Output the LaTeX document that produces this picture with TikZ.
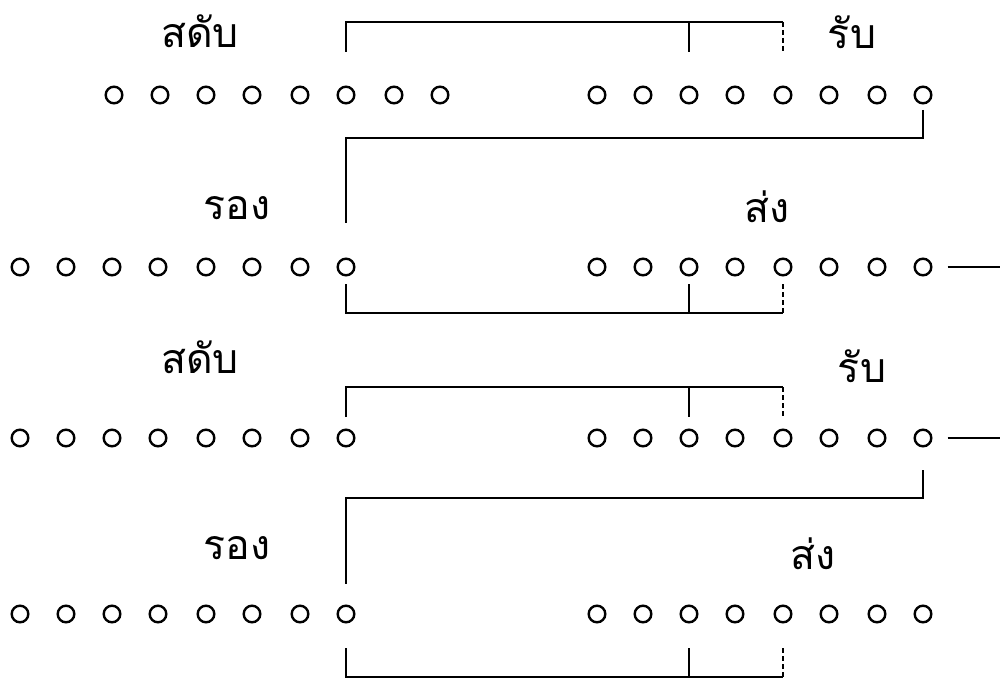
\documentclass[tikz,border=0pt]{standalone}
\usepackage{fontspec}
\newfontfamily\thaifont[Script=Thai]{Loma}
\begin{document}
\begin{tikzpicture}[x=0.5pt,y=-0.5pt,
  hole/.style={circle,draw,line width=1.2pt,minimum size=8.3pt,inner sep=0pt},
  wire/.style={line width=1pt},
  dwire/.style={line width=1pt,dash pattern=on 2.6pt off 1.4pt},
  lbl/.style={font=\thaifont\fontsize{20.5pt}{24pt}\selectfont,anchor=base,inner sep=0pt}]
\useasboundingbox (0,0) rectangle (1000,679);
% holes
\foreach \r/\y/\lx in {1/95/114,2/267/20,3/438/20,4/614/20}{
  \foreach \i/\o in {1/0,2/46,3/92,4/138,5/186,6/232,7/280,8/326}{
    \node[hole] (L\r-\i) at (\lx+\o,\y) {};
    \node[hole] (R\r-\i) at (597+\o,\y) {};
  }
}
% levels
\coordinate (a1) at (0,22);  \coordinate (b1) at (0,52);
\coordinate (c1) at (0,110); \coordinate (d1) at (0,138); \coordinate (e1) at (0,223);
\coordinate (a2) at (0,284); \coordinate (b2) at (0,313);
\coordinate (a3) at (0,387); \coordinate (b3) at (0,417);
\coordinate (c3) at (0,470); \coordinate (d3) at (0,498); \coordinate (e3) at (0,584);
\coordinate (a4) at (0,648); \coordinate (b4) at (0,677);
\coordinate (edge) at (1000,0);
% labels
\node[lbl] (s1) at (200,48) {สดับ};
\node[lbl] (r1) at (852,49) {รับ};
\node[lbl] (o2) at (237,220) {รอง};
\node[lbl] (g2) at (767,222) {ส่ง};
\node[lbl] (s3) at (200,373) {สดับ};
\node[lbl] (r3) at (862,382) {รับ};
\node[lbl] (o4) at (237,559) {รอง};
\node[lbl] (g4) at (813,569) {ส่ง};
% row 1 top bracket
\draw[wire] (L1-6 |- b1) -- (L1-6 |- a1) -- (R1-5 |- a1);
\draw[wire] (R1-3 |- a1) -- (R1-3 |- b1);
\draw[dwire] (R1-5 |- a1) -- (R1-5 |- b1);
% connector row1 -> row2
\draw[wire] (R1-8 |- c1) -- (R1-8 |- d1) -- (L2-8 |- d1) -- (L2-8 |- e1);
% row 2 bottom bracket
\draw[wire] (L2-8 |- a2) -- (L2-8 |- b2) -- (R2-5 |- b2);
\draw[wire] (R2-3 |- a2) -- (R2-3 |- b2);
\draw[dwire] (R2-5 |- a2) -- (R2-5 |- b2);
\draw[wire] ([xshift=7.5pt]R2-8.east) -- (R2-8 -| edge);
% row 3 top bracket
\draw[wire] (L3-8 |- b3) -- (L3-8 |- a3) -- (R3-5 |- a3);
\draw[wire] (R3-3 |- a3) -- (R3-3 |- b3);
\draw[dwire] (R3-5 |- a3) -- (R3-5 |- b3);
\draw[wire] ([xshift=7.5pt]R3-8.east) -- (R3-8 -| edge);
% connector row3 -> row4
\draw[wire] (R3-8 |- c3) -- (R3-8 |- d3) -- (L4-8 |- d3) -- (L4-8 |- e3);
% row 4 bottom bracket
\draw[wire] (L4-8 |- a4) -- (L4-8 |- b4) -- (R4-5 |- b4);
\draw[wire] (R4-3 |- a4) -- (R4-3 |- b4);
\draw[dwire] (R4-5 |- a4) -- (R4-5 |- b4);
\end{tikzpicture}
\end{document}
